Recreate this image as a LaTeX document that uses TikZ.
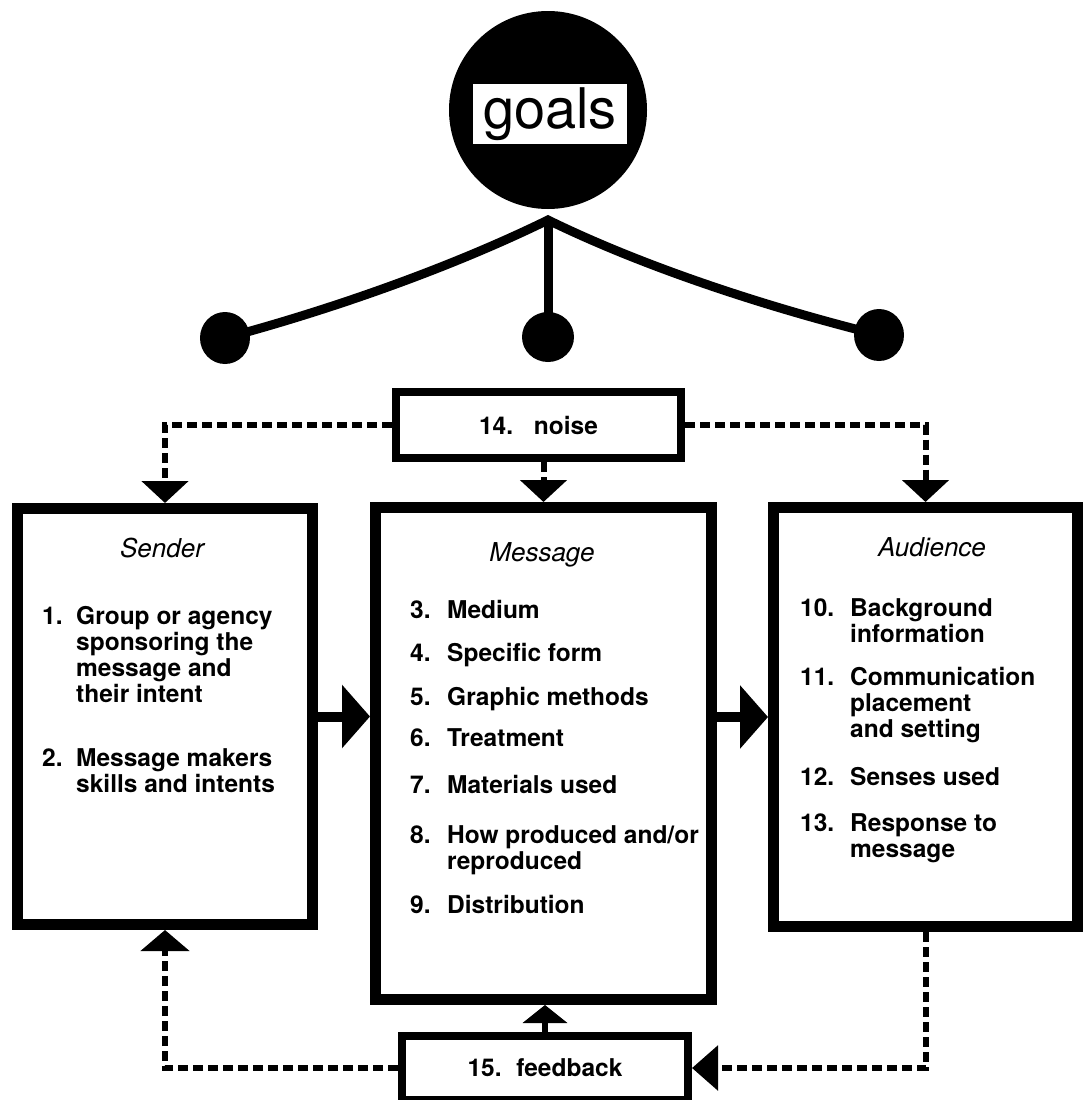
\documentclass[tikz,border=0pt]{standalone}
\usepackage{fontspec}
\setmainfont{TeX Gyre Heros}
\usetikzlibrary{arrows.meta, positioning, calc, shapes.geometric}
\newcommand{\itemlines}[1]{\begin{tabular}[t]{@{}l@{}}#1\end{tabular}}
\tikzset{
  bigbox/.style={rectangle, draw=black, line width=11pt, fill=white, inner sep=0pt},
  smallbox/.style={rectangle, draw=black, line width=8pt, fill=white, inner sep=0pt, font={\bfseries\fontsize{24.5pt}{26pt}\selectfont}},
  boxtitle/.style={anchor=base, inner sep=0pt, font={\itshape\fontsize{26pt}{28pt}\selectfont}},
  itemnum/.style={anchor=base west, inner sep=0pt, font={\bfseries\fontsize{24.5pt}{26pt}\selectfont}},
  itemtext/.style={anchor=base west, inner sep=0pt, font={\bfseries\fontsize{24.5pt}{26pt}\selectfont}},
  disc/.style={circle, fill=black, inner sep=0pt},
  ball/.style={ellipse, fill=black, inner sep=0pt},
  goalslabel/.style={rectangle, fill=white, inner sep=0pt, minimum width=154pt, minimum height=60pt, font={\fontsize{56pt}{60pt}\selectfont}},
  branch/.style={line width=9pt, line join=miter},
  dotarrow/.style={line width=6pt, dash pattern=on 10pt off 5pt, -{Triangle[length=22pt, width=46pt]}},
  thickarrow/.style={line width=10pt, -{Triangle[length=28pt, width=62pt]}}
}
\begin{document}
\begin{tikzpicture}[x=1pt, y=-1pt]
\useasboundingbox (0,0) rectangle (1083,1100);
% Goals disc and its three branches
\node[disc, minimum size=198pt] (disc) at (548,110) {};
\node[goalslabel] (goals) at (550,114) {goals};
\coordinate (apex) at (548,220);
\node[ball, minimum width=50pt, minimum height=52pt] (goalleft) at (225,338) {};
\node[ball, minimum width=52pt, minimum height=50pt] (goalmid) at (548,337) {};
\node[ball, minimum width=50pt, minimum height=52pt] (goalright) at (879,335) {};
\draw[branch] (goalleft.center) .. controls (330,310) and (450,268) .. (apex)
  .. controls (646,268) and (770,308) .. (goalright.center);
\draw[branch] (apex) -- (goalmid.center);

% Noise
\node[smallbox, minimum width=285pt, minimum height=66pt] (noise) at (538.5,425) {14.\hspace{0.85em}noise};

% Three main boxes
\node[bigbox, minimum width=295pt, minimum height=416pt] (sender) at (165,716.5) {};
\node[bigbox, minimum width=336pt, minimum height=492pt] (msg) at (543.5,753.5) {};
\node[bigbox, minimum width=304pt, minimum height=419pt] (aud) at (925.5,717) {};

% Feedback
\node[smallbox, minimum width=286pt, minimum height=64pt] (fb) at (545,1068) {15.\hspace{0.6em}feedback};

% Titles
\node[boxtitle] (sendertitle) at (162,557) {Sender};
\node[boxtitle] (msgtitle) at (542,561) {Message};
\node[boxtitle] (audtitle) at (932,556) {Audience};

% Items
\foreach \n/\y/\txt in {1/624/{Group or agency\\sponsoring the\\message and\\their intent},
                        2/766/{Message makers\\skills and intents}}
  \node[itemnum] (sn\n) at (42,\y) {\n.} node[itemtext] (st\n) at (76,\y) {\itemlines{\txt}};
\foreach \n/\y/\txt in {3/618/Medium, 4/661/Specific form, 5/705/Graphic methods,
                        6/746/Treatment, 7/793/Materials used,
                        8/843/{How produced and/or\\reproduced}, 9/913/Distribution}
  \node[itemnum] (mn\n) at (410,\y) {\n.} node[itemtext] (mt\n) at (447,\y) {\itemlines{\txt}};
\foreach \n/\y/\txt in {10/616/{Background\\information},
                        11/685/{Communication\\placement\\and setting},
                        12/785/Senses used, 13/831/{Response to\\message}}
  \node[itemnum] (an\n) at (800,\y) {\n.} node[itemtext] (at\n) at (850,\y) {\itemlines{\txt}};

% Connectors
\draw[dotarrow] (noise.west) -| (sender.north);
\draw[dotarrow] (noise.east) -| (aud.north);
\draw[dotarrow] (noise.south -| msg.north) -- (msg.north);
\draw[thickarrow] (sender.east) -- (sender.east -| msg.west);
\draw[thickarrow] (msg.east |- aud.west) -- (aud.west);
\draw[dotarrow, -{Triangle[length=26pt, width=44pt]}] (aud.south) |- (fb.east);
\draw[dotarrow, -{Triangle[length=21pt, width=48pt]}] (fb.west) -| (sender.south);
\draw[line width=6pt, -{Triangle[length=18pt, width=44pt]}] (fb.north) -- (fb.north |- msg.south);
\end{tikzpicture}
\end{document}
